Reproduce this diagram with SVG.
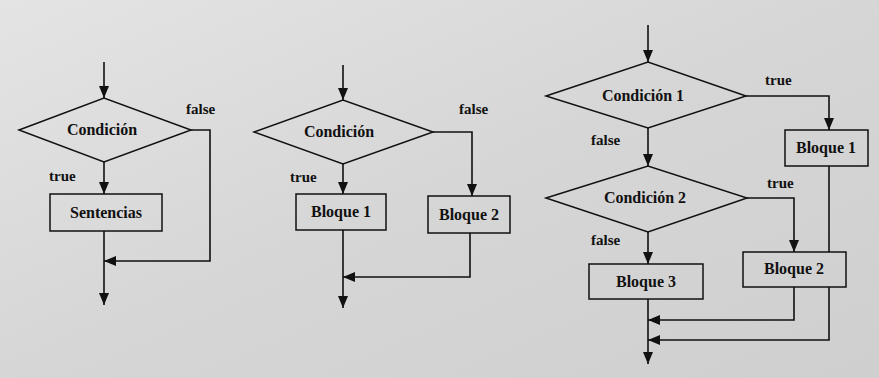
<svg xmlns="http://www.w3.org/2000/svg" width="879" height="378" viewBox="0 0 879 378">
<defs>
<linearGradient id="bg" x1="0" y1="0" x2="1" y2="1">
<stop offset="0" stop-color="#e4e4e4"/>
<stop offset="0.5" stop-color="#d6d6d6"/>
<stop offset="1" stop-color="#cfcfcf"/>
</linearGradient>
<marker id="ah" viewBox="0 0 12 10" refX="12" refY="5" markerWidth="12" markerHeight="10" markerUnits="userSpaceOnUse" orient="auto">
<path d="M0,0 L12,5 L0,10 z" fill="#111"/>
</marker>
<style>
.shape{fill:none;stroke:#111;stroke-width:1.5}
.c{fill:none;stroke:#111;stroke-width:1.6}
.a{marker-end:url(#ah)}
.t{font-family:"Liberation Serif","Times New Roman",serif;font-weight:bold;font-size:16px;fill:#111}
.m{text-anchor:middle}
.l{font-size:15px}
</style>
</defs>
<rect width="879" height="378" fill="url(#bg)"/>

<g id="connectors">
<!-- diagram 1 -->
<path class="c a" d="M104,62 V98"/>
<path class="c a" d="M104,162 V194"/>
<path class="c a" d="M104,231 V305"/>
<path class="c a" d="M191,130 H210 V261 H104"/>
<!-- diagram 2 -->
<path class="c a" d="M343,65 V100"/>
<path class="c a" d="M343,164 V194"/>
<path class="c a" d="M433,132 H472 V196"/>
<path class="c a" d="M343,230 V308"/>
<path class="c a" d="M470,233 V277 H343"/>
<!-- diagram 3 -->
<path class="c a" d="M648,25 V62"/>
<path class="c a" d="M648,128 V166"/>
<path class="c a" d="M648,232 V264"/>
<path class="c a" d="M648,299 V364"/>
<path class="c a" d="M746,96 H829 V130"/>
<path class="c a" d="M747,198 H794 V252"/>
<path class="c a" d="M794,287 V320 H648"/>
<path class="c" d="M829,166 V252"/>
<path class="c a" d="M829,287 V340 H648"/>
</g>

<g id="d1-cond">
<polygon class="shape" points="19,130 104,98 191,130 104,162"/>
<text class="t m" x="102" y="135">Condición</text>
</g>
<g id="d1-sent">
<rect class="shape" x="50" y="194" width="112" height="37"/>
<text class="t m" x="106" y="218">Sentencias</text>
</g>
<g id="d1-labels">
<text class="t l" x="186" y="114">false</text>
<text class="t l" x="49" y="181">true</text>
</g>

<g id="d2-cond">
<polygon class="shape" points="254,132 343,100 433,132 343,164"/>
<text class="t m" x="339" y="137">Condición</text>
</g>
<g id="d2-b1">
<rect class="shape" x="296" y="194" width="90" height="36"/>
<text class="t m" x="341" y="217">Bloque 1</text>
</g>
<g id="d2-b2">
<rect class="shape" x="428" y="196" width="82" height="37"/>
<text class="t m" x="469" y="220">Bloque 2</text>
</g>
<g id="d2-labels">
<text class="t l" x="459" y="114">false</text>
<text class="t l" x="290" y="182">true</text>
</g>

<g id="d3-cond1">
<polygon class="shape" points="546,96 648,62 746,96 648,128"/>
<text class="t m" x="643" y="101">Condición 1</text>
</g>
<g id="d3-cond2">
<polygon class="shape" points="546,198 648,166 747,198 648,232"/>
<text class="t m" x="645" y="203">Condición 2</text>
</g>
<g id="d3-b1">
<rect class="shape" x="785" y="130" width="83" height="36"/>
<text class="t m" x="826" y="153">Bloque 1</text>
</g>
<g id="d3-b2">
<rect class="shape" x="743" y="252" width="103" height="35"/>
<text class="t m" x="794" y="274">Bloque 2</text>
</g>
<g id="d3-b3">
<rect class="shape" x="589" y="264" width="114" height="35"/>
<text class="t m" x="646" y="287">Bloque 3</text>
</g>
<g id="d3-labels">
<text class="t l" x="765" y="85">true</text>
<text class="t l" x="591" y="145">false</text>
<text class="t l" x="767" y="188">true</text>
<text class="t l" x="591" y="245">false</text>
</g>
</svg>
